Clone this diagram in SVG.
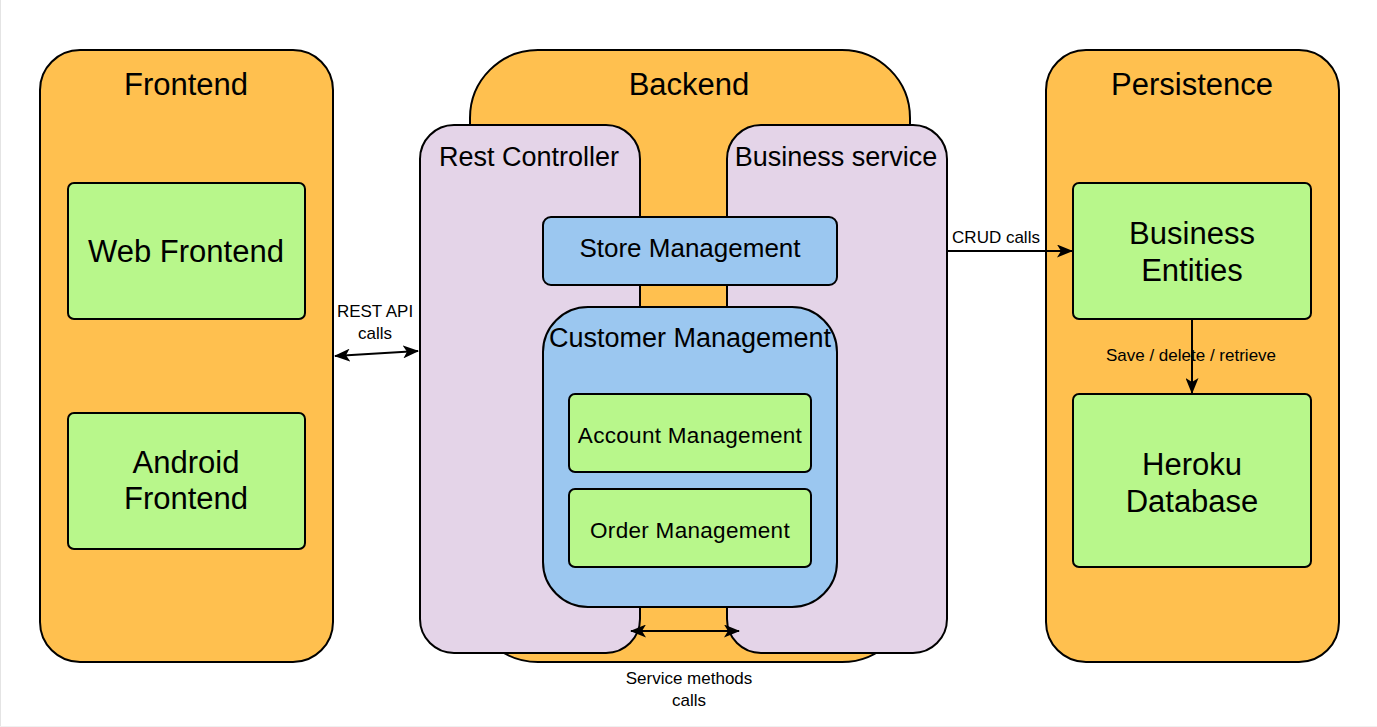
<svg xmlns="http://www.w3.org/2000/svg" width="1377" height="727" viewBox="0 0 1377 727">
<defs>
<style>
.box{stroke:#000;stroke-width:2}
.org{fill:#FFC04F}
.pur{fill:#E4D4E8}
.blu{fill:#9BC7F0}
.grn{fill:#B8F78B}
text{font-family:"Liberation Sans",Arial,sans-serif;fill:#000;text-anchor:middle}
.t31{font-size:31px}
.t27{font-size:27px}
.t26{font-size:26px}
.t22{font-size:22.5px;letter-spacing:0.3px}
.lbl{font-size:17px}
.con{stroke:#000;stroke-width:2;fill:none}
</style>
<marker id="ah" viewBox="0 0 16 13" refX="15" refY="6.5" markerWidth="16" markerHeight="13" markerUnits="userSpaceOnUse" orient="auto-start-reverse">
<path d="M0,0 L16,6.5 L0,13 L4,6.5 z" fill="#000"/>
</marker>
</defs>
<rect width="1377" height="727" fill="#fff"/>
<line x1="0.5" y1="0" x2="0.5" y2="727" stroke="#e4e4e4"/>
<line x1="0" y1="726.5" x2="1377" y2="726.5" stroke="#f0f0f0"/>

<g id="frontend">
<rect class="box org" x="40" y="50" width="293" height="612" rx="40"/>
<text class="t31" x="186" y="95">Frontend</text>
</g>
<g id="web-frontend">
<rect class="box grn" x="68" y="183" width="237" height="136" rx="6"/>
<text class="t31" x="186" y="262">Web Frontend</text>
</g>
<g id="android-frontend">
<rect class="box grn" x="68" y="413" width="237" height="136" rx="6"/>
<text class="t31" x="186" y="473">Android</text>
<text class="t31" x="186" y="509">Frontend</text>
</g>

<g id="backend">
<rect class="box org" x="470" y="50" width="440" height="612" rx="68"/>
<text class="t31" x="689" y="95">Backend</text>
</g>
<g id="rest-controller">
<rect class="box pur" x="420" y="125" width="220" height="528" rx="34"/>
<text class="t27" x="529" y="166">Rest Controller</text>
</g>
<g id="business-service">
<rect class="box pur" x="727" y="125" width="220" height="528" rx="34"/>
<text class="t27" x="836" y="166">Business service</text>
</g>
<g id="store-management">
<rect class="box blu" x="543" y="217" width="294" height="68" rx="8"/>
<text class="t26" x="690" y="257">Store Management</text>
</g>
<g id="customer-management">
<rect class="box blu" x="543" y="307" width="294" height="300" rx="45"/>
<text class="t27" x="690" y="347">Customer Management</text>
</g>
<g id="account-management">
<rect class="box grn" x="569" y="394" width="242" height="78" rx="6"/>
<text class="t22" x="690" y="443">Account Management</text>
</g>
<g id="order-management">
<rect class="box grn" x="569" y="489" width="242" height="78" rx="6"/>
<text class="t22" x="690" y="538">Order Management</text>
</g>

<g id="persistence">
<rect class="box org" x="1046" y="50" width="293" height="612" rx="40"/>
<text class="t31" x="1192" y="95">Persistence</text>
</g>
<g id="business-entities">
<rect class="box grn" x="1073" y="183" width="238" height="136" rx="6"/>
<text class="t31" x="1192" y="244">Business</text>
<text class="t31" x="1192" y="281">Entities</text>
</g>
<g id="heroku-database">
<rect class="box grn" x="1073" y="394" width="238" height="173" rx="6"/>
<text class="t31" x="1192" y="475">Heroku</text>
<text class="t31" x="1192" y="512">Database</text>
</g>

<g id="connectors">
<line class="con" x1="335" y1="356" x2="418" y2="351" marker-start="url(#ah)" marker-end="url(#ah)"/>
<text class="lbl" x="375" y="317">REST API</text>
<text class="lbl" x="375" y="339">calls</text>
<line class="con" x1="948" y1="251" x2="1072" y2="251" marker-end="url(#ah)"/>
<text class="lbl" x="996" y="243">CRUD calls</text>
<line class="con" x1="1192" y1="320" x2="1192" y2="393" marker-end="url(#ah)"/>
<text class="lbl" x="1191" y="361">Save / delete / retrieve</text>
<line class="con" x1="631" y1="631" x2="739" y2="631" marker-start="url(#ah)" marker-end="url(#ah)"/>
<text class="lbl" x="689" y="684">Service methods</text>
<text class="lbl" x="689" y="706">calls</text>
</g>
</svg>
